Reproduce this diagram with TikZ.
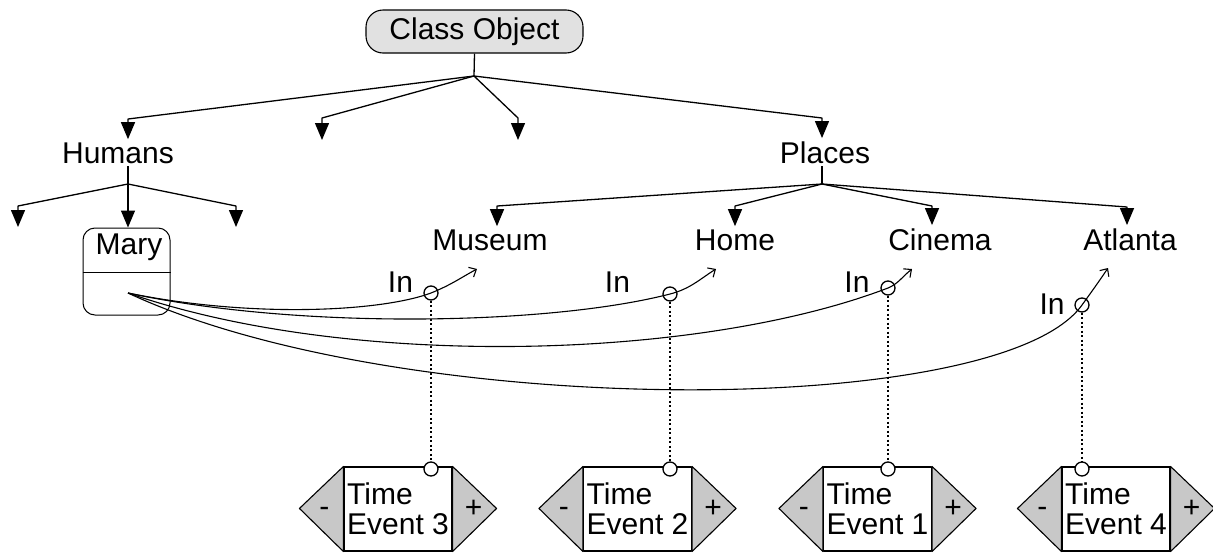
\documentclass[tikz,border=0pt]{standalone}
\usepackage{fontspec}
\setmainfont{Liberation Sans}
\usetikzlibrary{arrows.meta}

\definecolor{pillgray}{RGB}{225,225,225}
\definecolor{flapgray}{RGB}{200,200,200}

\tikzset{
  lbl/.style={font=\fontsize{30}{30}\selectfont, anchor=base, inner sep=3pt},
  tree/.style={line width=1.3pt, -{Triangle[length=17pt,width=14pt]}},
  link/.style={line width=1.1pt, -{Straight Barb[length=6pt,width=11pt]}},
  ring/.style={circle, draw, line width=1.3pt, minimum size=14pt, inner sep=0pt},
  evbox/.style={draw, fill=white, line width=1.1pt, minimum width=108pt,
    minimum height=84pt, align=left, inner xsep=2pt, inner ysep=0pt,
    font=\fontsize{30}{30}\selectfont},
  flap/.style={draw, fill=flapgray, line width=1.1pt},
  tie/.style={line width=1.5pt, dash pattern=on 2pt off 2.5pt},
}

\begin{document}
\begin{tikzpicture}[x=1pt, y=-1pt, line join=round]

    \useasboundingbox (0,0) rectangle (1213,552);

    % 上のクラス
    \node[draw, fill=pillgray, line width=1.1pt, rounded corners=17pt,
      minimum width=217pt, minimum height=43pt, inner sep=0pt,
      font=\fontsize{30}{30}\selectfont] (obj) at (474.5,31.5) {Class Object};

    % ラベル
    \node[lbl] (hum) at (118,163) {Humans};
    \node[lbl] (pl) at (825,163) {Places};
    \node[lbl] (mus) at (490,250) {Museum};
    \node[lbl] (home) at (735,250) {Home};
    \node[lbl] (cin) at (940,250) {Cinema};
    \node[lbl] (atl) at (1130,250) {Atlanta};

    % Mary の箱
    \node[draw, line width=1pt, rounded corners=12pt, minimum width=87pt,
      minimum height=87pt] (mary) at (126.5,271.5) {};
    \draw[line width=1pt] (mary.west |- 0,272) -- (mary.east |- 0,272);
    \node[lbl] (maryname) at (129,254) {Mary};

    % 分岐点
    \coordinate (objB) at (474,76);
    \coordinate (humB) at (128,184);
    \coordinate (plB) at (822,184);
    \coordinate (leafA) at (322,140);
    \coordinate (leafB) at (518,140);
    \coordinate (leafC) at (18,227);
    \coordinate (leafD) at (236,227);

    % 木の矢印
    \draw[line width=1.3pt] (obj.south) -- (objB);
    \draw[tree] (objB) -- (128,119) -- ([xshift=10pt]hum.north);
    \draw[tree] (objB) -- (leafA |- 0,118) -- (leafA);
    \draw[tree] (objB) -- (leafB |- 0,118) -- (leafB);
    \draw[tree] (objB) -- (822,118) -- ([xshift=-3pt]pl.north);

    \draw[line width=1.3pt] (hum.south -| humB) -- (humB);
    \draw[tree] (humB) -- (leafC |- 0,206) -- (leafC);
    \draw[tree] (humB) -- (leafD |- 0,206) -- (leafD);
    \draw[tree] (humB) -- (humB |- mary.north);

    \draw[line width=1.3pt] (pl.south -| plB) -- (plB);
    \draw[tree] (plB) -- (497,206) -- ([xshift=7pt]mus.north);
    \draw[tree] (plB) -- (735,206) -- (home.north);
    \draw[tree] (plB) -- (932,206) -- ([xshift=-8pt]cin.north);
    \draw[tree] (plB) -- (1127,207) -- ([xshift=-3pt]atl.north);

    % In の輪
    \foreach \n/\x/\y in {3/431/293, 2/670/294, 1/888/288, 4/1082/305}
      \node[ring] (r\n) at (\x,\y) {};
    \node[lbl] (in3) at (400.5,292) {In};
    \node[lbl] (in2) at (617.5,292) {In};
    \node[lbl] (in1) at (857,292) {In};
    \node[lbl] (in4) at (1052,314) {In};

    % Mary からの曲線
    \coordinate (maryC) at (128,293);
    \coordinate (musIn) at (477,269);
    \coordinate (homeIn) at (716,269);
    \coordinate (cinIn) at (912,269);
    \coordinate (atlIn) at (1108,268);
    \draw[link] (maryC) .. controls (250,318) and (380,312) .. (r3.center)
      .. controls (451,285) and (462,277) .. (musIn);
    \draw[link] (maryC) .. controls (300,330) and (550,325) .. (r2.center)
      .. controls (690,289) and (700,279) .. (homeIn);
    \draw[link] (maryC) .. controls (350,370) and (700,360) .. (r1.center)
      .. controls (898,284) and (903,276) .. (cinIn);
    \draw[link] (maryC) .. controls (400,420) and (1000,420) .. (r4.center)
      .. controls (1090,294) and (1100,280) .. (atlIn);

    % Time Event の箱
    \foreach \n/\x in {3/398, 2/637.5, 1/877.5, 4/1116} {
      \node[evbox] (ev\n) at (\x,509) {Time\\Event \n};
      \draw[flap] (ev\n.north west) -- ++(-44,42) -- (ev\n.south west) -- cycle;
      \draw[flap] (ev\n.north east) -- ++(44,42) -- (ev\n.south east) -- cycle;
      \node[font=\fontsize{30}{30}\selectfont, inner sep=0pt] (mi\n)
        at ([xshift=-19pt, yshift=-3pt]ev\n.west) {-};
      \node[font=\fontsize{30}{30}\selectfont, inner sep=0pt] (pl\n)
        at ([xshift=21pt]ev\n.east) {+};
      \node[ring, fill=white] (b\n) at (r\n |- 0,469) {};
      \draw[tie] (r\n) -- (b\n);
    }

\end{tikzpicture}
\end{document}
